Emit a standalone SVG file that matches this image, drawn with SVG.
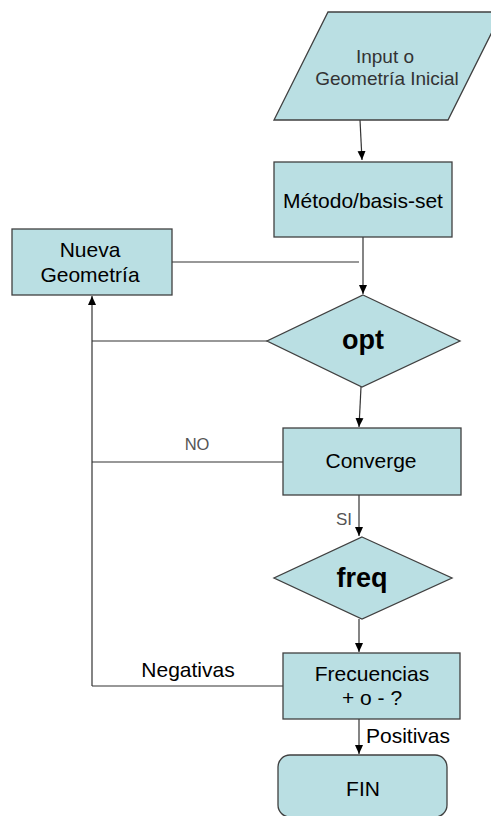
<svg xmlns="http://www.w3.org/2000/svg" width="491" height="816" viewBox="0 0 491 816">
<defs>
<marker id="ah" markerWidth="10" markerHeight="10" refX="9" refY="5" orient="auto" markerUnits="userSpaceOnUse">
<path d="M0,1 L9,5 L0,9 Z" fill="#000"/>
</marker>
<style>
.n{fill:#BADFE3;stroke:#404040;stroke-width:1.3}
.t{font-family:"Liberation Sans",Arial,sans-serif;font-size:21px;fill:#000;text-anchor:middle}
.b{font-weight:bold;font-size:27px}
.c{fill:none;stroke:#333;stroke-width:1.2}
.a{marker-end:url(#ah)}
.l{font-family:"Liberation Sans",Arial,sans-serif;font-size:21px;fill:#000}
</style>
</defs>
<rect width="491" height="816" fill="#fff"/>
<g id="connectors">
<path class="c a" d="M360,120 L362,160"/>
<path class="c a" d="M363,237 L363,294"/>
<path class="c" d="M172,262 L359,262"/>
<path class="c" d="M267,341 L92,341"/>
<path class="c a" d="M361,387 L359,427"/>
<path class="c" d="M283,462 L92,462"/>
<path class="c a" d="M359,495 L359,536"/>
<path class="c a" d="M359,619 L359,652"/>
<path class="c" d="M283,686 L92,686"/>
<path class="c a" d="M92,686 L92,296"/>
<path class="c a" d="M359,719 L359,754"/>
<text class="l" x="197" y="450" text-anchor="middle" style="font-size:16.5px;fill:#555">NO</text>
<text class="l" x="344" y="525" text-anchor="middle" style="font-size:17px;fill:#555">SI</text>
<text class="l" x="188" y="677" text-anchor="middle">Negativas</text>
<text class="l" x="366" y="743">Positivas</text>
</g>
<g id="input">
<polygon class="n" points="328,12 502,12 448,120 274,120"/>
<text class="t" x="385" y="63" style="font-size:19px;fill:#333">Input o</text>
<text class="t" x="387" y="85" style="font-size:19px;fill:#333">Geometría Inicial</text>
</g>
<g id="metodo">
<rect class="n" x="274" y="162" width="178" height="75"/>
<text class="t" x="363" y="208">Método/basis-set</text>
</g>
<g id="nueva">
<rect class="n" x="12" y="229" width="160" height="66"/>
<text class="t" x="90" y="257">Nueva</text>
<text class="t" x="90" y="282">Geometría</text>
</g>
<g id="opt">
<polygon class="n" points="363,295 460,341 362,387 267,341"/>
<text class="t b" x="363" y="349">opt</text>
</g>
<g id="converge">
<rect class="n" x="283" y="428" width="178" height="67"/>
<text class="t" x="371" y="468">Converge</text>
</g>
<g id="freq">
<polygon class="n" points="362,537 452,578 362,619 274,578"/>
<text class="t b" x="362" y="587">freq</text>
</g>
<g id="frecuencias">
<rect class="n" x="283" y="653" width="177" height="66"/>
<text class="t" x="372" y="681">Frecuencias</text>
<text class="t" x="372" y="705">+ o - ?</text>
</g>
<g id="fin">
<rect class="n" x="278" y="755" width="169" height="62" rx="12" ry="12"/>
<text class="t" x="363" y="796">FIN</text>
</g>
</svg>
